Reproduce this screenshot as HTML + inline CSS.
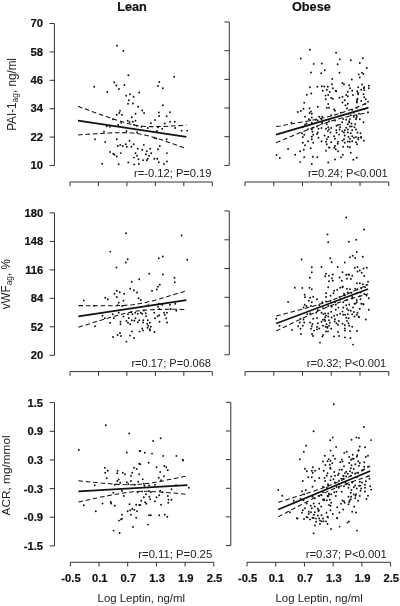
<!DOCTYPE html><html><head><meta charset="utf-8"><title>Leptin scatter</title><style>html,body{margin:0;padding:0;background:#fff}svg{display:block}</style></head><body><svg width="400" height="606" viewBox="0 0 400 606" font-family='&quot;Liberation Sans&quot;, Arial, sans-serif'>
<rect width="400" height="606" fill="#fff"/>
<g fill="#111" stroke="#111" stroke-width="0.2" font-weight="bold" font-size="12.7" text-anchor="middle"><text x="132" y="10.9">Lean</text><text x="311.4" y="10.9">Obese</text></g>
<g stroke="#333" stroke-width="1" fill="none">
<path d="M49.5 23.5H54.4V165.5H49.5M49.5 51.9H54.4M49.5 80.3H54.4M49.5 108.7H54.4M49.5 137.1H54.4"/>
<path d="M70.00 186.2V182.0H212.30V186.2M98.46 182.0V186.2M126.92 182.0V186.2M155.38 182.0V186.2M183.84 182.0V186.2"/>
<path d="M224.4 22.0H229.3V165.4H224.4M224.4 50.7H229.3M224.4 79.4H229.3M224.4 108.0H229.3M224.4 136.7H229.3"/>
<path d="M245.00 186.2V182.0H388.75V186.2M273.75 182.0V186.2M302.50 182.0V186.2M331.25 182.0V186.2M360.00 182.0V186.2"/>
<path d="M49.6 212.9H54.5V355.3H49.6M49.6 241.4H54.5M49.6 269.9H54.5M49.6 298.3H54.5M49.6 326.8H54.5"/>
<path d="M70.00 375.8V371.6H212.30V375.8M98.46 371.6V375.8M126.92 371.6V375.8M155.38 371.6V375.8M183.84 371.6V375.8"/>
<path d="M224.4 211.0H229.3V354.8H224.4M224.4 239.8H229.3M224.4 268.5H229.3M224.4 297.3H229.3M224.4 326.0H229.3"/>
<path d="M245.00 375.8V371.6H388.75V375.8M273.75 371.6V375.8M302.50 371.6V375.8M331.25 371.6V375.8M360.00 371.6V375.8"/>
<path d="M49.6 402.6H54.5V545.9H49.6M49.6 431.3H54.5M49.6 459.9H54.5M49.6 488.6H54.5M49.6 517.2H54.5"/>
<path d="M70.30 566.5V562.3H213.80V566.5M99.00 562.3V566.5M127.70 562.3V566.5M156.40 562.3V566.5M185.10 562.3V566.5"/>
<path d="M225.9 402.3H230.8V545.6H225.9M225.9 431.0H230.8M225.9 459.6H230.8M225.9 488.3H230.8M225.9 516.9H230.8"/>
<path d="M247.00 566.5V562.3H390.60V566.5M275.72 562.3V566.5M304.44 562.3V566.5M333.16 562.3V566.5M361.88 562.3V566.5"/>
</g>
<g fill="#111" stroke="#111" stroke-width="0.2" font-weight="bold" text-anchor="end">
<text font-size="11.3" x="43.0" y="27.2">70</text>
<text font-size="11.3" x="43.0" y="55.6">58</text>
<text font-size="11.3" x="43.0" y="84.0">46</text>
<text font-size="11.3" x="43.0" y="112.4">34</text>
<text font-size="11.3" x="43.0" y="140.8">22</text>
<text font-size="11.3" x="43.0" y="169.2">10</text>
<text font-size="11.2" x="43.2" y="216.6">180</text>
<text font-size="11.2" x="43.2" y="245.1">148</text>
<text font-size="11.2" x="43.2" y="273.6">116</text>
<text font-size="11.2" x="43.2" y="302.0">84</text>
<text font-size="11.2" x="43.2" y="330.5">52</text>
<text font-size="11.2" x="43.2" y="359.0">20</text>
<text font-size="11.2" x="43.1" y="406.7">1.5</text>
<text font-size="11.2" x="43.1" y="435.4">0.9</text>
<text font-size="11.2" x="43.1" y="464.0">0.3</text>
<text font-size="11.2" x="43.1" y="492.7">-0.3</text>
<text font-size="11.2" x="43.1" y="521.3">-0.9</text>
<text font-size="11.2" x="43.1" y="550.0">-1.5</text>
</g>
<g fill="#111" stroke="#111" stroke-width="0.2" font-weight="bold" font-size="11.2" text-anchor="middle">
<text x="71.00" y="581.5">-0.5</text>
<text x="99.70" y="581.5">0.1</text>
<text x="128.40" y="581.5">0.7</text>
<text x="157.10" y="581.5">1.3</text>
<text x="185.80" y="581.5">1.9</text>
<text x="214.50" y="581.5">2.5</text>
<text x="247.70" y="581.5">-0.5</text>
<text x="276.42" y="581.5">0.1</text>
<text x="305.14" y="581.5">0.7</text>
<text x="333.86" y="581.5">1.3</text>
<text x="362.58" y="581.5">1.9</text>
<text x="391.30" y="581.5">2.5</text>
</g>
<g fill="#222" font-size="11.4" text-anchor="middle"><text x="141.3" y="602">Log Leptin, ng/ml</text><text x="319.2" y="602">Log Leptin, ng/ml</text></g>
<g fill="#222" text-anchor="end">
<text font-size="11.15" x="211.5" y="177.0">r=-0.12; P=0.19</text>
<text font-size="11.15" x="387.8" y="177.0">r=0.24; P&lt;0.001</text>
<text font-size="11.10" x="211.0" y="367.0">r=0.17; P=0.068</text>
<text font-size="11.10" x="386.3" y="367.0">r=0.32; P&lt;0.001</text>
<text font-size="11.30" x="212.2" y="557.9">r=0.11; P=0.25</text>
<text font-size="11.30" x="386.8" y="557.9">r=0.37; P&lt;0.001</text>
</g>
<g fill="#222">
<text font-size="12.5" transform="translate(15.8 130.8) rotate(-90) scale(0.935 1)">PAI-1<tspan font-size="9" dy="2.6">ag</tspan><tspan dy="-2.6">, ng/ml</tspan></text>
<text font-size="11.9" transform="translate(9.9 309.2) rotate(-90) scale(0.975 1)">vWF<tspan font-size="8.6" dy="2.5">ag</tspan><tspan dy="-2.5">, %</tspan></text>
<text font-size="11.8" transform="translate(10.3 515.4) rotate(-90)">ACR, mg/mmol</text>
</g>
<g stroke="#111" fill="none">
<path stroke-width="1.65" d="M78.0 120.6L186.4 136.9"/>
<path stroke-width="1.05" stroke-dasharray="4.6 2.8" d="M78.0 106.3L82.5 108.0L87.0 109.6L91.5 111.3L96.1 112.9L100.6 114.5L105.1 116.1L109.6 117.7L114.1 119.3L118.7 120.7L123.2 122.1L127.7 123.4L132.2 124.5L136.7 125.4L141.2 126.0L145.8 126.4L150.3 126.6L154.8 126.6L159.3 126.5L163.8 126.4L168.3 126.2L172.9 125.9L177.4 125.7L181.9 125.4L186.4 125.1"/>
<path stroke-width="1.05" stroke-dasharray="4.6 2.8" d="M78.0 134.9L82.5 134.6L87.0 134.3L91.5 134.0L96.1 133.7L100.6 133.5L105.1 133.2L109.6 133.0L114.1 132.8L118.7 132.7L123.2 132.6L127.7 132.7L132.2 133.0L136.7 133.4L141.2 134.2L145.8 135.2L150.3 136.4L154.8 137.7L159.3 139.1L163.8 140.6L168.3 142.2L172.9 143.8L177.4 145.4L181.9 147.0L186.4 148.7"/>
<path stroke-width="1.65" d="M276.1 134.6L368.5 107.6"/>
<path stroke-width="1.05" stroke-dasharray="4.6 2.8" d="M276.1 126.5L280.0 125.9L283.8 125.2L287.7 124.6L291.5 123.9L295.4 123.2L299.2 122.6L303.1 121.9L306.9 121.2L310.8 120.5L314.6 119.7L318.4 118.9L322.3 118.1L326.2 117.2L330.0 116.3L333.9 115.2L337.7 114.1L341.6 112.8L345.4 111.5L349.2 110.1L353.1 108.7L356.9 107.2L360.8 105.7L364.6 104.1L368.5 102.6"/>
<path stroke-width="1.05" stroke-dasharray="4.6 2.8" d="M276.1 142.7L280.0 141.1L283.8 139.5L287.7 137.9L291.5 136.3L295.4 134.7L299.2 133.1L303.1 131.6L306.9 130.0L310.8 128.5L314.6 127.0L318.4 125.5L322.3 124.1L326.2 122.7L330.0 121.4L333.9 120.2L337.7 119.1L341.6 118.1L345.4 117.2L349.2 116.3L353.1 115.5L356.9 114.8L360.8 114.0L364.6 113.3L368.5 112.6"/>
<path stroke-width="1.65" d="M78.4 316.4L186.4 300.1"/>
<path stroke-width="1.05" stroke-dasharray="4.6 2.8" d="M78.4 305.6L82.9 305.6L87.4 305.7L91.9 305.7L96.4 305.8L100.9 305.8L105.4 305.8L109.9 305.8L114.4 305.7L118.9 305.6L123.4 305.4L127.9 305.1L132.4 304.7L136.9 304.1L141.4 303.3L145.9 302.4L150.4 301.3L154.9 300.2L159.4 298.9L163.9 297.6L168.4 296.3L172.9 294.9L177.4 293.6L181.9 292.2L186.4 290.8"/>
<path stroke-width="1.05" stroke-dasharray="4.6 2.8" d="M78.4 327.2L82.9 325.8L87.4 324.4L91.9 323.0L96.4 321.6L100.9 320.2L105.4 318.9L109.9 317.5L114.4 316.2L118.9 315.0L123.4 313.8L127.9 312.8L132.4 311.8L136.9 311.1L141.4 310.5L145.9 310.0L150.4 309.7L154.9 309.6L159.4 309.4L163.9 309.4L168.4 309.3L172.9 309.3L177.4 309.3L181.9 309.4L186.4 309.4"/>
<path stroke-width="1.65" d="M276.2 323.5L368.2 289.1"/>
<path stroke-width="1.05" stroke-dasharray="4.6 2.8" d="M276.2 316.0L280.1 315.0L283.9 314.0L287.8 313.0L291.6 312.0L295.4 311.0L299.2 309.9L303.1 308.9L306.9 307.8L310.8 306.8L314.6 305.7L318.4 304.5L322.2 303.4L326.1 302.1L329.9 300.9L333.8 299.5L337.6 298.0L341.4 296.5L345.2 294.9L349.1 293.2L352.9 291.5L356.8 289.8L360.6 288.0L364.4 286.2L368.2 284.4"/>
<path stroke-width="1.05" stroke-dasharray="4.6 2.8" d="M276.2 331.0L280.1 329.1L283.9 327.3L287.8 325.4L291.6 323.5L295.4 321.7L299.2 319.9L303.1 318.0L306.9 316.2L310.8 314.4L314.6 312.7L318.4 310.9L322.2 309.2L326.1 307.6L329.9 306.0L333.8 304.5L337.6 303.1L341.4 301.7L345.2 300.5L349.1 299.3L352.9 298.1L356.8 297.0L360.6 295.9L364.4 294.9L368.2 293.8"/>
<path stroke-width="1.65" d="M78.4 491.4L187.4 485.1"/>
<path stroke-width="1.05" stroke-dasharray="4.6 2.8" d="M78.4 480.8L82.9 481.3L87.5 481.8L92.0 482.2L96.6 482.6L101.1 483.1L105.7 483.4L110.2 483.8L114.7 484.1L119.3 484.4L123.8 484.6L128.4 484.7L132.9 484.7L137.4 484.5L142.0 484.1L146.5 483.6L151.1 483.0L155.6 482.2L160.2 481.4L164.7 480.5L169.2 479.6L173.8 478.7L178.3 477.8L182.9 476.8L187.4 475.8"/>
<path stroke-width="1.05" stroke-dasharray="4.6 2.8" d="M78.4 502.0L82.9 501.0L87.5 500.0L92.0 499.0L96.6 498.1L101.1 497.1L105.7 496.2L110.2 495.3L114.7 494.5L119.3 493.7L123.8 492.9L128.4 492.3L132.9 491.8L137.4 491.5L142.0 491.3L146.5 491.3L151.1 491.4L155.6 491.7L160.2 491.9L164.7 492.3L169.2 492.7L173.8 493.1L178.3 493.5L182.9 493.9L187.4 494.4"/>
<path stroke-width="1.65" d="M278.2 509.6L370.2 470.9"/>
<path stroke-width="1.05" stroke-dasharray="4.6 2.8" d="M278.2 502.3L282.0 501.2L285.9 500.0L289.7 498.8L293.5 497.6L297.4 496.4L301.2 495.2L305.0 493.9L308.9 492.7L312.7 491.4L316.5 490.1L320.4 488.8L324.2 487.4L328.0 486.0L331.9 484.5L335.7 482.9L339.5 481.2L343.4 479.5L347.2 477.7L351.0 475.8L354.9 473.9L358.7 472.0L362.5 470.0L366.4 468.0L370.2 466.0"/>
<path stroke-width="1.05" stroke-dasharray="4.6 2.8" d="M278.2 516.9L282.0 514.8L285.9 512.8L289.7 510.7L293.5 508.7L297.4 506.7L301.2 504.7L305.0 502.7L308.9 500.7L312.7 498.7L316.5 496.8L320.4 494.9L324.2 493.1L328.0 491.3L331.9 489.6L335.7 487.9L339.5 486.4L343.4 484.9L347.2 483.5L351.0 482.1L354.9 480.8L358.7 479.5L362.5 478.3L366.4 477.0L370.2 475.8"/>
</g>
<g fill="#111">
<circle cx="117.0" cy="45.8" r="0.95"/>
<circle cx="123.3" cy="50.9" r="0.95"/>
<circle cx="128.4" cy="75.2" r="0.95"/>
<circle cx="114.3" cy="82.2" r="0.95"/>
<circle cx="116.4" cy="85.5" r="0.95"/>
<circle cx="124.4" cy="85.0" r="0.95"/>
<circle cx="94.2" cy="86.8" r="0.95"/>
<circle cx="119.0" cy="89.0" r="0.95"/>
<circle cx="107.3" cy="92.0" r="0.95"/>
<circle cx="139.2" cy="92.5" r="0.95"/>
<circle cx="129.9" cy="94.2" r="0.95"/>
<circle cx="126.2" cy="95.8" r="0.95"/>
<circle cx="133.6" cy="96.8" r="0.95"/>
<circle cx="128.8" cy="100.2" r="0.95"/>
<circle cx="128.0" cy="103.7" r="0.95"/>
<circle cx="132.9" cy="103.5" r="0.95"/>
<circle cx="138.2" cy="106.7" r="0.95"/>
<circle cx="120.0" cy="110.8" r="0.95"/>
<circle cx="119.3" cy="113.0" r="0.95"/>
<circle cx="116.8" cy="114.8" r="0.95"/>
<circle cx="122.0" cy="114.8" r="0.95"/>
<circle cx="135.5" cy="113.8" r="0.95"/>
<circle cx="131.8" cy="117.2" r="0.95"/>
<circle cx="113.0" cy="119.3" r="0.95"/>
<circle cx="127.7" cy="120.8" r="0.95"/>
<circle cx="129.5" cy="122.0" r="0.95"/>
<circle cx="121.2" cy="122.8" r="0.95"/>
<circle cx="132.8" cy="121.7" r="0.95"/>
<circle cx="135.5" cy="120.8" r="0.95"/>
<circle cx="118.2" cy="125.0" r="0.95"/>
<circle cx="106.7" cy="126.2" r="0.95"/>
<circle cx="110.0" cy="126.8" r="0.95"/>
<circle cx="134.0" cy="124.7" r="0.95"/>
<circle cx="136.7" cy="125.8" r="0.95"/>
<circle cx="104.0" cy="131.8" r="0.95"/>
<circle cx="126.5" cy="131.0" r="0.95"/>
<circle cx="137.0" cy="132.2" r="0.95"/>
<circle cx="95.0" cy="139.2" r="0.95"/>
<circle cx="116.8" cy="139.2" r="0.95"/>
<circle cx="105.2" cy="141.9" r="0.95"/>
<circle cx="129.5" cy="140.8" r="0.95"/>
<circle cx="133.7" cy="144.2" r="0.95"/>
<circle cx="117.8" cy="146.0" r="0.95"/>
<circle cx="120.2" cy="144.9" r="0.95"/>
<circle cx="122.8" cy="146.0" r="0.95"/>
<circle cx="125.8" cy="144.2" r="0.95"/>
<circle cx="126.8" cy="146.8" r="0.95"/>
<circle cx="131.4" cy="146.8" r="0.95"/>
<circle cx="137.8" cy="148.7" r="0.95"/>
<circle cx="110.0" cy="152.0" r="0.95"/>
<circle cx="113.3" cy="153.8" r="0.95"/>
<circle cx="114.5" cy="154.7" r="0.95"/>
<circle cx="120.8" cy="153.1" r="0.95"/>
<circle cx="116.8" cy="156.5" r="0.95"/>
<circle cx="135.5" cy="153.2" r="0.95"/>
<circle cx="137.0" cy="155.8" r="0.95"/>
<circle cx="134.0" cy="157.6" r="0.95"/>
<circle cx="138.5" cy="159.2" r="0.95"/>
<circle cx="102.2" cy="163.7" r="0.95"/>
<circle cx="118.7" cy="164.3" r="0.95"/>
<circle cx="128.3" cy="162.5" r="0.95"/>
<circle cx="134.3" cy="164.4" r="0.95"/>
<circle cx="138.8" cy="164.0" r="0.95"/>
<circle cx="174.2" cy="76.7" r="0.95"/>
<circle cx="159.2" cy="82.0" r="0.95"/>
<circle cx="158.0" cy="86.0" r="0.95"/>
<circle cx="162.8" cy="88.2" r="0.95"/>
<circle cx="162.9" cy="105.2" r="0.95"/>
<circle cx="142.2" cy="110.5" r="0.95"/>
<circle cx="144.1" cy="113.0" r="0.95"/>
<circle cx="158.8" cy="112.5" r="0.95"/>
<circle cx="170.0" cy="112.2" r="0.95"/>
<circle cx="159.1" cy="116.0" r="0.95"/>
<circle cx="166.7" cy="116.3" r="0.95"/>
<circle cx="155.0" cy="120.0" r="0.95"/>
<circle cx="170.0" cy="121.7" r="0.95"/>
<circle cx="174.8" cy="121.7" r="0.95"/>
<circle cx="150.9" cy="123.2" r="0.95"/>
<circle cx="164.8" cy="123.5" r="0.95"/>
<circle cx="141.5" cy="126.8" r="0.95"/>
<circle cx="147.8" cy="128.0" r="0.95"/>
<circle cx="158.0" cy="127.2" r="0.95"/>
<circle cx="162.2" cy="128.8" r="0.95"/>
<circle cx="175.2" cy="128.0" r="0.95"/>
<circle cx="156.9" cy="131.0" r="0.95"/>
<circle cx="181.7" cy="130.7" r="0.95"/>
<circle cx="187.2" cy="130.6" r="0.95"/>
<circle cx="154.2" cy="137.8" r="0.95"/>
<circle cx="156.2" cy="138.5" r="0.95"/>
<circle cx="166.7" cy="139.2" r="0.95"/>
<circle cx="143.8" cy="144.9" r="0.95"/>
<circle cx="159.8" cy="146.0" r="0.95"/>
<circle cx="150.2" cy="148.7" r="0.95"/>
<circle cx="158.0" cy="149.3" r="0.95"/>
<circle cx="142.2" cy="149.8" r="0.95"/>
<circle cx="146.8" cy="151.2" r="0.95"/>
<circle cx="167.0" cy="153.1" r="0.95"/>
<circle cx="146.0" cy="154.2" r="0.95"/>
<circle cx="151.2" cy="153.2" r="0.95"/>
<circle cx="149.0" cy="155.8" r="0.95"/>
<circle cx="147.8" cy="158.8" r="0.95"/>
<circle cx="154.2" cy="158.8" r="0.95"/>
<circle cx="157.2" cy="158.8" r="0.95"/>
<circle cx="143.0" cy="160.2" r="0.95"/>
<circle cx="146.8" cy="160.2" r="0.95"/>
<circle cx="158.8" cy="162.2" r="0.95"/>
<circle cx="167.0" cy="161.4" r="0.95"/>
<circle cx="164.0" cy="164.0" r="0.95"/>
<circle cx="309.9" cy="49.7" r="0.95"/>
<circle cx="300.8" cy="58.5" r="0.95"/>
<circle cx="313.7" cy="63.9" r="0.95"/>
<circle cx="311.0" cy="72.5" r="0.95"/>
<circle cx="336.1" cy="52.7" r="0.95"/>
<circle cx="339.8" cy="59.4" r="0.95"/>
<circle cx="350.8" cy="60.2" r="0.95"/>
<circle cx="362.8" cy="58.2" r="0.95"/>
<circle cx="321.8" cy="63.5" r="0.95"/>
<circle cx="337.6" cy="64.2" r="0.95"/>
<circle cx="359.8" cy="63.0" r="0.95"/>
<circle cx="366.8" cy="68.0" r="0.95"/>
<circle cx="324.8" cy="70.2" r="0.95"/>
<circle cx="321.2" cy="73.2" r="0.95"/>
<circle cx="339.5" cy="72.8" r="0.95"/>
<circle cx="362.0" cy="72.8" r="0.95"/>
<circle cx="363.5" cy="74.0" r="0.95"/>
<circle cx="358.7" cy="74.4" r="0.95"/>
<circle cx="359.8" cy="77.4" r="0.95"/>
<circle cx="332.3" cy="78.9" r="0.95"/>
<circle cx="351.8" cy="79.5" r="0.95"/>
<circle cx="309.9" cy="87.2" r="0.95"/>
<circle cx="317.4" cy="86.8" r="0.95"/>
<circle cx="311.3" cy="93.5" r="0.95"/>
<circle cx="306.8" cy="94.7" r="0.95"/>
<circle cx="304.2" cy="102.8" r="0.95"/>
<circle cx="317.8" cy="106.7" r="0.95"/>
<circle cx="303.5" cy="108.8" r="0.95"/>
<circle cx="309.5" cy="108.2" r="0.95"/>
<circle cx="300.8" cy="111.0" r="0.95"/>
<circle cx="297.8" cy="112.0" r="0.95"/>
<circle cx="311.0" cy="111.5" r="0.95"/>
<circle cx="309.5" cy="113.0" r="0.95"/>
<circle cx="311.8" cy="113.8" r="0.95"/>
<circle cx="305.0" cy="116.8" r="0.95"/>
<circle cx="311.8" cy="117.5" r="0.95"/>
<circle cx="319.2" cy="116.8" r="0.95"/>
<circle cx="308.8" cy="119.3" r="0.95"/>
<circle cx="310.2" cy="120.2" r="0.95"/>
<circle cx="315.8" cy="119.8" r="0.95"/>
<circle cx="317.8" cy="120.5" r="0.95"/>
<circle cx="291.5" cy="122.8" r="0.95"/>
<circle cx="306.5" cy="123.5" r="0.95"/>
<circle cx="311.8" cy="122.8" r="0.95"/>
<circle cx="305.0" cy="124.7" r="0.95"/>
<circle cx="309.2" cy="124.7" r="0.95"/>
<circle cx="302.8" cy="127.2" r="0.95"/>
<circle cx="312.8" cy="127.7" r="0.95"/>
<circle cx="317.0" cy="126.5" r="0.95"/>
<circle cx="308.0" cy="129.2" r="0.95"/>
<circle cx="311.8" cy="129.5" r="0.95"/>
<circle cx="318.5" cy="128.8" r="0.95"/>
<circle cx="312.5" cy="131.8" r="0.95"/>
<circle cx="317.8" cy="132.5" r="0.95"/>
<circle cx="302.0" cy="133.2" r="0.95"/>
<circle cx="304.2" cy="134.8" r="0.95"/>
<circle cx="313.2" cy="134.8" r="0.95"/>
<circle cx="317.0" cy="134.0" r="0.95"/>
<circle cx="302.8" cy="137.0" r="0.95"/>
<circle cx="311.8" cy="136.7" r="0.95"/>
<circle cx="318.5" cy="137.8" r="0.95"/>
<circle cx="311.8" cy="139.2" r="0.95"/>
<circle cx="332.0" cy="84.2" r="0.95"/>
<circle cx="342.5" cy="83.0" r="0.95"/>
<circle cx="344.0" cy="84.2" r="0.95"/>
<circle cx="349.2" cy="85.2" r="0.95"/>
<circle cx="362.0" cy="84.5" r="0.95"/>
<circle cx="368.8" cy="85.7" r="0.95"/>
<circle cx="321.8" cy="86.3" r="0.95"/>
<circle cx="327.8" cy="86.8" r="0.95"/>
<circle cx="332.8" cy="88.2" r="0.95"/>
<circle cx="350.0" cy="88.2" r="0.95"/>
<circle cx="358.2" cy="87.2" r="0.95"/>
<circle cx="364.2" cy="87.2" r="0.95"/>
<circle cx="368.8" cy="88.2" r="0.95"/>
<circle cx="326.8" cy="89.8" r="0.95"/>
<circle cx="322.7" cy="90.8" r="0.95"/>
<circle cx="329.8" cy="92.0" r="0.95"/>
<circle cx="335.8" cy="90.8" r="0.95"/>
<circle cx="347.8" cy="91.7" r="0.95"/>
<circle cx="352.2" cy="90.8" r="0.95"/>
<circle cx="361.2" cy="89.8" r="0.95"/>
<circle cx="357.2" cy="91.2" r="0.95"/>
<circle cx="328.2" cy="95.0" r="0.95"/>
<circle cx="346.2" cy="95.0" r="0.95"/>
<circle cx="347.8" cy="96.2" r="0.95"/>
<circle cx="353.0" cy="95.0" r="0.95"/>
<circle cx="358.2" cy="94.2" r="0.95"/>
<circle cx="363.5" cy="94.2" r="0.95"/>
<circle cx="342.5" cy="96.8" r="0.95"/>
<circle cx="339.5" cy="97.7" r="0.95"/>
<circle cx="331.2" cy="98.0" r="0.95"/>
<circle cx="325.7" cy="99.2" r="0.95"/>
<circle cx="332.8" cy="98.8" r="0.95"/>
<circle cx="357.5" cy="98.8" r="0.95"/>
<circle cx="364.2" cy="97.2" r="0.95"/>
<circle cx="365.8" cy="99.2" r="0.95"/>
<circle cx="344.8" cy="100.2" r="0.95"/>
<circle cx="356.8" cy="101.8" r="0.95"/>
<circle cx="361.2" cy="101.0" r="0.95"/>
<circle cx="328.2" cy="104.0" r="0.95"/>
<circle cx="342.5" cy="102.5" r="0.95"/>
<circle cx="347.8" cy="103.7" r="0.95"/>
<circle cx="356.8" cy="102.5" r="0.95"/>
<circle cx="365.0" cy="104.0" r="0.95"/>
<circle cx="368.0" cy="101.8" r="0.95"/>
<circle cx="345.5" cy="105.2" r="0.95"/>
<circle cx="326.8" cy="107.8" r="0.95"/>
<circle cx="329.0" cy="107.8" r="0.95"/>
<circle cx="347.0" cy="108.5" r="0.95"/>
<circle cx="334.2" cy="109.2" r="0.95"/>
<circle cx="335.0" cy="110.8" r="0.95"/>
<circle cx="352.2" cy="110.0" r="0.95"/>
<circle cx="356.8" cy="107.8" r="0.95"/>
<circle cx="364.2" cy="109.2" r="0.95"/>
<circle cx="340.7" cy="112.7" r="0.95"/>
<circle cx="348.5" cy="113.8" r="0.95"/>
<circle cx="350.8" cy="115.2" r="0.95"/>
<circle cx="359.0" cy="113.8" r="0.95"/>
<circle cx="368.0" cy="112.2" r="0.95"/>
<circle cx="322.2" cy="116.8" r="0.95"/>
<circle cx="331.2" cy="115.2" r="0.95"/>
<circle cx="353.8" cy="116.8" r="0.95"/>
<circle cx="356.8" cy="116.0" r="0.95"/>
<circle cx="321.5" cy="119.3" r="0.95"/>
<circle cx="343.2" cy="119.0" r="0.95"/>
<circle cx="346.2" cy="119.8" r="0.95"/>
<circle cx="349.2" cy="121.2" r="0.95"/>
<circle cx="356.0" cy="119.3" r="0.95"/>
<circle cx="359.8" cy="119.3" r="0.95"/>
<circle cx="335.0" cy="120.5" r="0.95"/>
<circle cx="329.0" cy="121.2" r="0.95"/>
<circle cx="342.2" cy="122.3" r="0.95"/>
<circle cx="363.5" cy="122.3" r="0.95"/>
<circle cx="322.2" cy="123.5" r="0.95"/>
<circle cx="326.8" cy="124.2" r="0.95"/>
<circle cx="338.0" cy="125.0" r="0.95"/>
<circle cx="347.8" cy="124.2" r="0.95"/>
<circle cx="351.5" cy="123.5" r="0.95"/>
<circle cx="355.2" cy="124.2" r="0.95"/>
<circle cx="328.2" cy="127.2" r="0.95"/>
<circle cx="331.2" cy="128.0" r="0.95"/>
<circle cx="340.2" cy="127.2" r="0.95"/>
<circle cx="346.2" cy="127.7" r="0.95"/>
<circle cx="350.0" cy="126.5" r="0.95"/>
<circle cx="354.5" cy="127.2" r="0.95"/>
<circle cx="321.5" cy="128.0" r="0.95"/>
<circle cx="326.0" cy="128.8" r="0.95"/>
<circle cx="329.0" cy="129.5" r="0.95"/>
<circle cx="339.5" cy="129.5" r="0.95"/>
<circle cx="344.8" cy="130.2" r="0.95"/>
<circle cx="347.8" cy="129.5" r="0.95"/>
<circle cx="352.2" cy="130.2" r="0.95"/>
<circle cx="356.0" cy="129.5" r="0.95"/>
<circle cx="330.5" cy="132.5" r="0.95"/>
<circle cx="336.5" cy="132.8" r="0.95"/>
<circle cx="344.0" cy="132.5" r="0.95"/>
<circle cx="347.8" cy="132.5" r="0.95"/>
<circle cx="350.8" cy="133.2" r="0.95"/>
<circle cx="357.5" cy="132.5" r="0.95"/>
<circle cx="360.5" cy="133.2" r="0.95"/>
<circle cx="324.5" cy="135.5" r="0.95"/>
<circle cx="328.2" cy="137.0" r="0.95"/>
<circle cx="334.2" cy="136.2" r="0.95"/>
<circle cx="344.8" cy="135.5" r="0.95"/>
<circle cx="348.5" cy="136.7" r="0.95"/>
<circle cx="352.2" cy="136.2" r="0.95"/>
<circle cx="356.0" cy="137.0" r="0.95"/>
<circle cx="326.8" cy="139.2" r="0.95"/>
<circle cx="335.0" cy="138.8" r="0.95"/>
<circle cx="344.0" cy="139.2" r="0.95"/>
<circle cx="350.0" cy="138.8" r="0.95"/>
<circle cx="358.2" cy="139.2" r="0.95"/>
<circle cx="361.2" cy="137.8" r="0.95"/>
<circle cx="302.8" cy="142.7" r="0.95"/>
<circle cx="308.0" cy="141.2" r="0.95"/>
<circle cx="313.2" cy="142.7" r="0.95"/>
<circle cx="305.0" cy="145.2" r="0.95"/>
<circle cx="288.1" cy="149.0" r="0.95"/>
<circle cx="310.7" cy="148.2" r="0.95"/>
<circle cx="303.8" cy="149.8" r="0.95"/>
<circle cx="300.2" cy="151.2" r="0.95"/>
<circle cx="276.5" cy="155.0" r="0.95"/>
<circle cx="295.2" cy="154.7" r="0.95"/>
<circle cx="279.8" cy="158.0" r="0.95"/>
<circle cx="304.2" cy="157.2" r="0.95"/>
<circle cx="312.8" cy="156.8" r="0.95"/>
<circle cx="317.3" cy="157.2" r="0.95"/>
<circle cx="300.2" cy="162.1" r="0.95"/>
<circle cx="311.8" cy="164.0" r="0.95"/>
<circle cx="321.5" cy="141.2" r="0.95"/>
<circle cx="326.0" cy="141.8" r="0.95"/>
<circle cx="331.2" cy="142.2" r="0.95"/>
<circle cx="338.0" cy="141.8" r="0.95"/>
<circle cx="342.5" cy="140.8" r="0.95"/>
<circle cx="344.8" cy="142.7" r="0.95"/>
<circle cx="347.8" cy="141.5" r="0.95"/>
<circle cx="352.2" cy="141.2" r="0.95"/>
<circle cx="356.0" cy="142.2" r="0.95"/>
<circle cx="363.8" cy="140.8" r="0.95"/>
<circle cx="326.8" cy="144.2" r="0.95"/>
<circle cx="337.7" cy="143.8" r="0.95"/>
<circle cx="335.0" cy="146.0" r="0.95"/>
<circle cx="343.2" cy="146.8" r="0.95"/>
<circle cx="347.8" cy="146.8" r="0.95"/>
<circle cx="350.0" cy="147.2" r="0.95"/>
<circle cx="329.0" cy="147.5" r="0.95"/>
<circle cx="335.8" cy="149.3" r="0.95"/>
<circle cx="326.0" cy="150.8" r="0.95"/>
<circle cx="338.0" cy="151.2" r="0.95"/>
<circle cx="350.8" cy="152.8" r="0.95"/>
<circle cx="342.8" cy="154.7" r="0.95"/>
<circle cx="341.0" cy="157.2" r="0.95"/>
<circle cx="356.8" cy="157.7" r="0.95"/>
<circle cx="335.0" cy="159.5" r="0.95"/>
<circle cx="353.3" cy="159.8" r="0.95"/>
<circle cx="328.2" cy="162.5" r="0.95"/>
<circle cx="126.0" cy="233.2" r="0.95"/>
<circle cx="110.3" cy="251.6" r="0.95"/>
<circle cx="127.7" cy="259.2" r="0.95"/>
<circle cx="125.8" cy="262.5" r="0.95"/>
<circle cx="116.4" cy="267.4" r="0.95"/>
<circle cx="181.6" cy="235.5" r="0.95"/>
<circle cx="162.8" cy="256.5" r="0.95"/>
<circle cx="158.8" cy="258.3" r="0.95"/>
<circle cx="187.2" cy="259.8" r="0.95"/>
<circle cx="139.2" cy="279.3" r="0.95"/>
<circle cx="131.8" cy="281.7" r="0.95"/>
<circle cx="130.2" cy="288.8" r="0.95"/>
<circle cx="134.0" cy="290.2" r="0.95"/>
<circle cx="116.8" cy="291.0" r="0.95"/>
<circle cx="119.8" cy="292.2" r="0.95"/>
<circle cx="137.0" cy="292.5" r="0.95"/>
<circle cx="114.5" cy="293.7" r="0.95"/>
<circle cx="124.2" cy="293.7" r="0.95"/>
<circle cx="116.8" cy="297.0" r="0.95"/>
<circle cx="105.2" cy="297.8" r="0.95"/>
<circle cx="107.8" cy="299.2" r="0.95"/>
<circle cx="138.5" cy="298.2" r="0.95"/>
<circle cx="83.8" cy="300.4" r="0.95"/>
<circle cx="123.5" cy="300.8" r="0.95"/>
<circle cx="118.7" cy="302.7" r="0.95"/>
<circle cx="94.2" cy="305.7" r="0.95"/>
<circle cx="117.5" cy="305.2" r="0.95"/>
<circle cx="122.3" cy="306.0" r="0.95"/>
<circle cx="118.7" cy="312.8" r="0.95"/>
<circle cx="131.0" cy="312.3" r="0.95"/>
<circle cx="135.2" cy="312.8" r="0.95"/>
<circle cx="112.7" cy="314.2" r="0.95"/>
<circle cx="128.0" cy="314.2" r="0.95"/>
<circle cx="132.5" cy="314.2" r="0.95"/>
<circle cx="137.8" cy="313.8" r="0.95"/>
<circle cx="102.5" cy="315.8" r="0.95"/>
<circle cx="123.5" cy="316.5" r="0.95"/>
<circle cx="104.8" cy="318.3" r="0.95"/>
<circle cx="113.8" cy="318.3" r="0.95"/>
<circle cx="128.8" cy="318.0" r="0.95"/>
<circle cx="135.5" cy="318.3" r="0.95"/>
<circle cx="131.8" cy="320.2" r="0.95"/>
<circle cx="139.2" cy="320.2" r="0.95"/>
<circle cx="120.5" cy="321.8" r="0.95"/>
<circle cx="126.5" cy="321.0" r="0.95"/>
<circle cx="134.3" cy="320.7" r="0.95"/>
<circle cx="110.0" cy="322.8" r="0.95"/>
<circle cx="128.0" cy="322.8" r="0.95"/>
<circle cx="137.8" cy="322.2" r="0.95"/>
<circle cx="120.5" cy="324.3" r="0.95"/>
<circle cx="130.2" cy="324.3" r="0.95"/>
<circle cx="95.0" cy="326.2" r="0.95"/>
<circle cx="149.3" cy="273.8" r="0.95"/>
<circle cx="162.9" cy="274.5" r="0.95"/>
<circle cx="174.5" cy="277.8" r="0.95"/>
<circle cx="174.8" cy="282.3" r="0.95"/>
<circle cx="159.8" cy="284.7" r="0.95"/>
<circle cx="158.0" cy="286.8" r="0.95"/>
<circle cx="152.0" cy="290.7" r="0.95"/>
<circle cx="156.8" cy="289.5" r="0.95"/>
<circle cx="140.8" cy="300.0" r="0.95"/>
<circle cx="158.8" cy="303.8" r="0.95"/>
<circle cx="162.2" cy="304.8" r="0.95"/>
<circle cx="170.0" cy="304.8" r="0.95"/>
<circle cx="175.2" cy="303.8" r="0.95"/>
<circle cx="148.2" cy="305.2" r="0.95"/>
<circle cx="158.0" cy="306.8" r="0.95"/>
<circle cx="159.5" cy="309.0" r="0.95"/>
<circle cx="170.8" cy="309.0" r="0.95"/>
<circle cx="176.3" cy="310.8" r="0.95"/>
<circle cx="143.8" cy="310.5" r="0.95"/>
<circle cx="140.8" cy="312.8" r="0.95"/>
<circle cx="142.2" cy="313.8" r="0.95"/>
<circle cx="145.7" cy="313.2" r="0.95"/>
<circle cx="154.2" cy="312.8" r="0.95"/>
<circle cx="164.0" cy="312.8" r="0.95"/>
<circle cx="167.0" cy="312.8" r="0.95"/>
<circle cx="164.8" cy="315.0" r="0.95"/>
<circle cx="146.0" cy="316.2" r="0.95"/>
<circle cx="157.7" cy="316.2" r="0.95"/>
<circle cx="159.2" cy="315.3" r="0.95"/>
<circle cx="155.0" cy="318.3" r="0.95"/>
<circle cx="166.2" cy="318.3" r="0.95"/>
<circle cx="143.3" cy="320.2" r="0.95"/>
<circle cx="147.8" cy="320.2" r="0.95"/>
<circle cx="159.5" cy="321.8" r="0.95"/>
<circle cx="167.0" cy="322.5" r="0.95"/>
<circle cx="143.0" cy="322.5" r="0.95"/>
<circle cx="147.2" cy="323.7" r="0.95"/>
<circle cx="149.8" cy="322.8" r="0.95"/>
<circle cx="148.2" cy="325.8" r="0.95"/>
<circle cx="150.8" cy="326.7" r="0.95"/>
<circle cx="142.2" cy="328.5" r="0.95"/>
<circle cx="147.5" cy="327.8" r="0.95"/>
<circle cx="149.8" cy="329.2" r="0.95"/>
<circle cx="132.0" cy="331.4" r="0.95"/>
<circle cx="139.6" cy="331.6" r="0.95"/>
<circle cx="143.0" cy="330.4" r="0.95"/>
<circle cx="150.0" cy="330.4" r="0.95"/>
<circle cx="154.4" cy="332.0" r="0.95"/>
<circle cx="120.0" cy="333.0" r="0.95"/>
<circle cx="117.6" cy="335.0" r="0.95"/>
<circle cx="121.0" cy="336.0" r="0.95"/>
<circle cx="113.0" cy="337.0" r="0.95"/>
<circle cx="130.0" cy="335.6" r="0.95"/>
<circle cx="134.0" cy="338.0" r="0.95"/>
<circle cx="126.4" cy="341.6" r="0.95"/>
<circle cx="301.6" cy="259.5" r="0.95"/>
<circle cx="311.8" cy="267.3" r="0.95"/>
<circle cx="346.2" cy="217.5" r="0.95"/>
<circle cx="364.2" cy="229.5" r="0.95"/>
<circle cx="327.5" cy="234.4" r="0.95"/>
<circle cx="356.3" cy="239.7" r="0.95"/>
<circle cx="328.2" cy="242.2" r="0.95"/>
<circle cx="348.9" cy="241.8" r="0.95"/>
<circle cx="356.8" cy="252.0" r="0.95"/>
<circle cx="352.7" cy="255.8" r="0.95"/>
<circle cx="350.0" cy="257.2" r="0.95"/>
<circle cx="355.2" cy="258.0" r="0.95"/>
<circle cx="362.8" cy="256.8" r="0.95"/>
<circle cx="330.2" cy="258.3" r="0.95"/>
<circle cx="331.7" cy="262.2" r="0.95"/>
<circle cx="344.8" cy="262.5" r="0.95"/>
<circle cx="321.5" cy="267.0" r="0.95"/>
<circle cx="337.7" cy="267.0" r="0.95"/>
<circle cx="354.8" cy="267.8" r="0.95"/>
<circle cx="357.5" cy="267.0" r="0.95"/>
<circle cx="363.5" cy="268.5" r="0.95"/>
<circle cx="366.8" cy="267.8" r="0.95"/>
<circle cx="311.8" cy="272.2" r="0.95"/>
<circle cx="309.9" cy="277.8" r="0.95"/>
<circle cx="294.8" cy="287.7" r="0.95"/>
<circle cx="302.3" cy="288.0" r="0.95"/>
<circle cx="309.5" cy="287.7" r="0.95"/>
<circle cx="311.8" cy="289.2" r="0.95"/>
<circle cx="304.7" cy="294.8" r="0.95"/>
<circle cx="305.0" cy="297.3" r="0.95"/>
<circle cx="310.2" cy="297.8" r="0.95"/>
<circle cx="313.2" cy="296.7" r="0.95"/>
<circle cx="317.0" cy="299.2" r="0.95"/>
<circle cx="308.8" cy="300.8" r="0.95"/>
<circle cx="311.8" cy="302.2" r="0.95"/>
<circle cx="288.1" cy="301.9" r="0.95"/>
<circle cx="304.7" cy="304.8" r="0.95"/>
<circle cx="306.5" cy="306.0" r="0.95"/>
<circle cx="303.5" cy="307.5" r="0.95"/>
<circle cx="311.0" cy="306.0" r="0.95"/>
<circle cx="319.2" cy="305.2" r="0.95"/>
<circle cx="317.8" cy="310.2" r="0.95"/>
<circle cx="307.2" cy="314.2" r="0.95"/>
<circle cx="310.2" cy="313.5" r="0.95"/>
<circle cx="316.2" cy="312.8" r="0.95"/>
<circle cx="276.2" cy="318.8" r="0.95"/>
<circle cx="300.5" cy="318.8" r="0.95"/>
<circle cx="303.5" cy="319.5" r="0.95"/>
<circle cx="313.2" cy="318.8" r="0.95"/>
<circle cx="317.0" cy="318.0" r="0.95"/>
<circle cx="299.8" cy="322.5" r="0.95"/>
<circle cx="304.2" cy="322.5" r="0.95"/>
<circle cx="310.2" cy="322.5" r="0.95"/>
<circle cx="312.5" cy="324.0" r="0.95"/>
<circle cx="317.8" cy="323.2" r="0.95"/>
<circle cx="279.5" cy="325.8" r="0.95"/>
<circle cx="298.2" cy="326.2" r="0.95"/>
<circle cx="302.8" cy="325.8" r="0.95"/>
<circle cx="311.8" cy="326.2" r="0.95"/>
<circle cx="317.0" cy="327.0" r="0.95"/>
<circle cx="300.5" cy="328.8" r="0.95"/>
<circle cx="311.0" cy="328.8" r="0.95"/>
<circle cx="319.2" cy="328.5" r="0.95"/>
<circle cx="326.0" cy="273.8" r="0.95"/>
<circle cx="342.5" cy="272.2" r="0.95"/>
<circle cx="357.5" cy="271.5" r="0.95"/>
<circle cx="361.7" cy="272.7" r="0.95"/>
<circle cx="346.2" cy="274.8" r="0.95"/>
<circle cx="349.2" cy="274.8" r="0.95"/>
<circle cx="332.8" cy="274.5" r="0.95"/>
<circle cx="325.2" cy="276.3" r="0.95"/>
<circle cx="329.0" cy="275.7" r="0.95"/>
<circle cx="339.5" cy="277.5" r="0.95"/>
<circle cx="352.2" cy="275.7" r="0.95"/>
<circle cx="364.2" cy="276.0" r="0.95"/>
<circle cx="332.0" cy="278.2" r="0.95"/>
<circle cx="347.0" cy="278.7" r="0.95"/>
<circle cx="350.8" cy="279.0" r="0.95"/>
<circle cx="329.0" cy="281.2" r="0.95"/>
<circle cx="332.8" cy="280.8" r="0.95"/>
<circle cx="341.8" cy="280.8" r="0.95"/>
<circle cx="368.0" cy="281.7" r="0.95"/>
<circle cx="356.8" cy="283.2" r="0.95"/>
<circle cx="359.8" cy="283.2" r="0.95"/>
<circle cx="362.8" cy="284.2" r="0.95"/>
<circle cx="366.5" cy="285.0" r="0.95"/>
<circle cx="328.2" cy="287.2" r="0.95"/>
<circle cx="342.5" cy="287.2" r="0.95"/>
<circle cx="340.2" cy="287.7" r="0.95"/>
<circle cx="347.0" cy="288.8" r="0.95"/>
<circle cx="350.0" cy="289.2" r="0.95"/>
<circle cx="355.2" cy="288.8" r="0.95"/>
<circle cx="357.5" cy="289.2" r="0.95"/>
<circle cx="361.2" cy="288.3" r="0.95"/>
<circle cx="365.0" cy="287.2" r="0.95"/>
<circle cx="334.2" cy="290.7" r="0.95"/>
<circle cx="337.2" cy="289.8" r="0.95"/>
<circle cx="326.0" cy="293.2" r="0.95"/>
<circle cx="333.5" cy="293.2" r="0.95"/>
<circle cx="344.0" cy="293.7" r="0.95"/>
<circle cx="347.8" cy="292.5" r="0.95"/>
<circle cx="351.5" cy="292.8" r="0.95"/>
<circle cx="356.8" cy="293.2" r="0.95"/>
<circle cx="360.5" cy="292.5" r="0.95"/>
<circle cx="364.2" cy="294.0" r="0.95"/>
<circle cx="326.0" cy="297.0" r="0.95"/>
<circle cx="330.5" cy="295.8" r="0.95"/>
<circle cx="339.5" cy="297.0" r="0.95"/>
<circle cx="344.8" cy="295.5" r="0.95"/>
<circle cx="352.2" cy="297.0" r="0.95"/>
<circle cx="359.8" cy="296.2" r="0.95"/>
<circle cx="366.5" cy="295.5" r="0.95"/>
<circle cx="322.2" cy="302.2" r="0.95"/>
<circle cx="326.0" cy="301.5" r="0.95"/>
<circle cx="330.5" cy="300.8" r="0.95"/>
<circle cx="340.2" cy="299.2" r="0.95"/>
<circle cx="347.0" cy="300.0" r="0.95"/>
<circle cx="352.2" cy="298.5" r="0.95"/>
<circle cx="356.8" cy="300.0" r="0.95"/>
<circle cx="360.5" cy="299.2" r="0.95"/>
<circle cx="368.8" cy="298.2" r="0.95"/>
<circle cx="335.0" cy="302.2" r="0.95"/>
<circle cx="343.2" cy="302.2" r="0.95"/>
<circle cx="356.8" cy="302.2" r="0.95"/>
<circle cx="323.0" cy="308.2" r="0.95"/>
<circle cx="328.2" cy="306.0" r="0.95"/>
<circle cx="335.8" cy="304.8" r="0.95"/>
<circle cx="346.2" cy="305.2" r="0.95"/>
<circle cx="349.2" cy="304.5" r="0.95"/>
<circle cx="354.5" cy="303.8" r="0.95"/>
<circle cx="361.2" cy="303.8" r="0.95"/>
<circle cx="363.5" cy="304.5" r="0.95"/>
<circle cx="343.2" cy="307.5" r="0.95"/>
<circle cx="347.0" cy="308.7" r="0.95"/>
<circle cx="353.0" cy="307.5" r="0.95"/>
<circle cx="359.8" cy="308.7" r="0.95"/>
<circle cx="321.5" cy="312.8" r="0.95"/>
<circle cx="325.2" cy="313.5" r="0.95"/>
<circle cx="331.2" cy="311.7" r="0.95"/>
<circle cx="335.8" cy="309.8" r="0.95"/>
<circle cx="348.5" cy="310.2" r="0.95"/>
<circle cx="350.8" cy="310.8" r="0.95"/>
<circle cx="353.8" cy="312.0" r="0.95"/>
<circle cx="357.5" cy="312.8" r="0.95"/>
<circle cx="368.8" cy="309.8" r="0.95"/>
<circle cx="340.2" cy="313.8" r="0.95"/>
<circle cx="343.2" cy="314.7" r="0.95"/>
<circle cx="347.8" cy="314.2" r="0.95"/>
<circle cx="352.2" cy="314.2" r="0.95"/>
<circle cx="356.8" cy="314.7" r="0.95"/>
<circle cx="325.2" cy="317.2" r="0.95"/>
<circle cx="328.2" cy="316.5" r="0.95"/>
<circle cx="334.2" cy="315.8" r="0.95"/>
<circle cx="337.2" cy="315.0" r="0.95"/>
<circle cx="346.2" cy="317.7" r="0.95"/>
<circle cx="348.5" cy="318.3" r="0.95"/>
<circle cx="354.5" cy="316.5" r="0.95"/>
<circle cx="359.0" cy="317.2" r="0.95"/>
<circle cx="365.8" cy="319.5" r="0.95"/>
<circle cx="324.5" cy="319.5" r="0.95"/>
<circle cx="329.0" cy="320.2" r="0.95"/>
<circle cx="335.0" cy="319.2" r="0.95"/>
<circle cx="338.8" cy="321.0" r="0.95"/>
<circle cx="347.0" cy="321.0" r="0.95"/>
<circle cx="321.5" cy="321.8" r="0.95"/>
<circle cx="329.8" cy="322.8" r="0.95"/>
<circle cx="336.5" cy="323.2" r="0.95"/>
<circle cx="342.5" cy="323.7" r="0.95"/>
<circle cx="348.5" cy="323.2" r="0.95"/>
<circle cx="323.0" cy="325.8" r="0.95"/>
<circle cx="329.0" cy="325.8" r="0.95"/>
<circle cx="338.0" cy="324.8" r="0.95"/>
<circle cx="344.8" cy="325.2" r="0.95"/>
<circle cx="349.2" cy="325.8" r="0.95"/>
<circle cx="352.2" cy="326.7" r="0.95"/>
<circle cx="327.5" cy="327.8" r="0.95"/>
<circle cx="331.2" cy="328.8" r="0.95"/>
<circle cx="344.8" cy="328.5" r="0.95"/>
<circle cx="292.0" cy="330.0" r="0.95"/>
<circle cx="314.0" cy="330.6" r="0.95"/>
<circle cx="317.0" cy="329.4" r="0.95"/>
<circle cx="326.0" cy="331.4" r="0.95"/>
<circle cx="328.0" cy="331.4" r="0.95"/>
<circle cx="338.0" cy="332.0" r="0.95"/>
<circle cx="345.0" cy="330.6" r="0.95"/>
<circle cx="350.0" cy="331.0" r="0.95"/>
<circle cx="357.0" cy="331.0" r="0.95"/>
<circle cx="301.0" cy="334.0" r="0.95"/>
<circle cx="312.0" cy="334.0" r="0.95"/>
<circle cx="313.0" cy="336.0" r="0.95"/>
<circle cx="323.0" cy="335.0" r="0.95"/>
<circle cx="322.4" cy="336.6" r="0.95"/>
<circle cx="334.0" cy="336.4" r="0.95"/>
<circle cx="339.0" cy="336.0" r="0.95"/>
<circle cx="345.0" cy="337.4" r="0.95"/>
<circle cx="350.4" cy="338.0" r="0.95"/>
<circle cx="320.0" cy="342.6" r="0.95"/>
<circle cx="353.0" cy="344.6" r="0.95"/>
<circle cx="105.8" cy="425.2" r="0.95"/>
<circle cx="129.2" cy="433.4" r="0.95"/>
<circle cx="126.8" cy="452.5" r="0.95"/>
<circle cx="139.6" cy="451.0" r="0.95"/>
<circle cx="160.6" cy="438.2" r="0.95"/>
<circle cx="153.1" cy="440.9" r="0.95"/>
<circle cx="140.3" cy="451.0" r="0.95"/>
<circle cx="144.8" cy="452.8" r="0.95"/>
<circle cx="152.0" cy="453.6" r="0.95"/>
<circle cx="163.2" cy="455.9" r="0.95"/>
<circle cx="176.4" cy="455.9" r="0.95"/>
<circle cx="182.8" cy="459.6" r="0.95"/>
<circle cx="139.2" cy="463.8" r="0.95"/>
<circle cx="104.8" cy="467.8" r="0.95"/>
<circle cx="134.0" cy="467.8" r="0.95"/>
<circle cx="136.7" cy="469.0" r="0.95"/>
<circle cx="107.8" cy="470.8" r="0.95"/>
<circle cx="117.5" cy="470.8" r="0.95"/>
<circle cx="105.2" cy="472.8" r="0.95"/>
<circle cx="117.2" cy="473.2" r="0.95"/>
<circle cx="122.8" cy="472.8" r="0.95"/>
<circle cx="125.0" cy="474.2" r="0.95"/>
<circle cx="132.2" cy="472.8" r="0.95"/>
<circle cx="139.2" cy="474.2" r="0.95"/>
<circle cx="131.0" cy="475.8" r="0.95"/>
<circle cx="106.7" cy="478.3" r="0.95"/>
<circle cx="118.7" cy="479.5" r="0.95"/>
<circle cx="117.2" cy="481.0" r="0.95"/>
<circle cx="131.0" cy="481.0" r="0.95"/>
<circle cx="126.8" cy="482.2" r="0.95"/>
<circle cx="120.2" cy="482.8" r="0.95"/>
<circle cx="138.2" cy="481.8" r="0.95"/>
<circle cx="94.7" cy="485.2" r="0.95"/>
<circle cx="114.8" cy="484.8" r="0.95"/>
<circle cx="128.3" cy="484.0" r="0.95"/>
<circle cx="134.8" cy="484.8" r="0.95"/>
<circle cx="122.0" cy="490.8" r="0.95"/>
<circle cx="113.3" cy="492.7" r="0.95"/>
<circle cx="137.8" cy="492.2" r="0.95"/>
<circle cx="123.8" cy="496.0" r="0.95"/>
<circle cx="110.8" cy="502.0" r="0.95"/>
<circle cx="102.5" cy="503.5" r="0.95"/>
<circle cx="111.2" cy="503.5" r="0.95"/>
<circle cx="129.5" cy="504.2" r="0.95"/>
<circle cx="136.2" cy="504.7" r="0.95"/>
<circle cx="139.2" cy="505.0" r="0.95"/>
<circle cx="83.8" cy="505.3" r="0.95"/>
<circle cx="114.8" cy="505.8" r="0.95"/>
<circle cx="132.2" cy="508.8" r="0.95"/>
<circle cx="130.2" cy="510.2" r="0.95"/>
<circle cx="134.3" cy="509.8" r="0.95"/>
<circle cx="127.7" cy="511.3" r="0.95"/>
<circle cx="137.0" cy="511.3" r="0.95"/>
<circle cx="95.8" cy="511.3" r="0.95"/>
<circle cx="131.0" cy="514.8" r="0.95"/>
<circle cx="122.0" cy="514.8" r="0.95"/>
<circle cx="136.2" cy="517.8" r="0.95"/>
<circle cx="122.0" cy="518.8" r="0.95"/>
<circle cx="183.2" cy="460.4" r="0.95"/>
<circle cx="148.7" cy="462.7" r="0.95"/>
<circle cx="140.3" cy="464.2" r="0.95"/>
<circle cx="156.5" cy="467.2" r="0.95"/>
<circle cx="164.3" cy="466.0" r="0.95"/>
<circle cx="166.2" cy="467.2" r="0.95"/>
<circle cx="167.8" cy="470.2" r="0.95"/>
<circle cx="160.2" cy="472.0" r="0.95"/>
<circle cx="164.0" cy="476.2" r="0.95"/>
<circle cx="158.8" cy="477.7" r="0.95"/>
<circle cx="142.7" cy="479.2" r="0.95"/>
<circle cx="161.0" cy="480.2" r="0.95"/>
<circle cx="143.8" cy="483.7" r="0.95"/>
<circle cx="144.5" cy="485.8" r="0.95"/>
<circle cx="149.0" cy="485.5" r="0.95"/>
<circle cx="155.0" cy="484.8" r="0.95"/>
<circle cx="176.0" cy="485.2" r="0.95"/>
<circle cx="188.8" cy="487.8" r="0.95"/>
<circle cx="171.5" cy="489.2" r="0.95"/>
<circle cx="142.2" cy="491.5" r="0.95"/>
<circle cx="149.0" cy="491.2" r="0.95"/>
<circle cx="150.8" cy="492.2" r="0.95"/>
<circle cx="160.2" cy="490.8" r="0.95"/>
<circle cx="162.5" cy="492.2" r="0.95"/>
<circle cx="146.0" cy="494.2" r="0.95"/>
<circle cx="159.2" cy="495.2" r="0.95"/>
<circle cx="167.8" cy="496.0" r="0.95"/>
<circle cx="143.8" cy="497.2" r="0.95"/>
<circle cx="149.3" cy="496.8" r="0.95"/>
<circle cx="156.5" cy="497.2" r="0.95"/>
<circle cx="150.2" cy="499.3" r="0.95"/>
<circle cx="168.5" cy="499.8" r="0.95"/>
<circle cx="171.5" cy="499.8" r="0.95"/>
<circle cx="141.2" cy="500.8" r="0.95"/>
<circle cx="155.0" cy="501.2" r="0.95"/>
<circle cx="168.2" cy="502.8" r="0.95"/>
<circle cx="145.2" cy="502.3" r="0.95"/>
<circle cx="146.3" cy="503.8" r="0.95"/>
<circle cx="161.0" cy="504.7" r="0.95"/>
<circle cx="140.3" cy="505.0" r="0.95"/>
<circle cx="149.0" cy="515.2" r="0.95"/>
<circle cx="150.8" cy="515.2" r="0.95"/>
<circle cx="159.2" cy="515.2" r="0.95"/>
<circle cx="164.8" cy="514.8" r="0.95"/>
<circle cx="167.3" cy="516.7" r="0.95"/>
<circle cx="121.0" cy="519.4" r="0.95"/>
<circle cx="119.0" cy="520.6" r="0.95"/>
<circle cx="133.0" cy="527.0" r="0.95"/>
<circle cx="148.0" cy="524.6" r="0.95"/>
<circle cx="113.6" cy="530.6" r="0.95"/>
<circle cx="119.6" cy="533.0" r="0.95"/>
<circle cx="313.6" cy="431.2" r="0.95"/>
<circle cx="306.1" cy="445.8" r="0.95"/>
<circle cx="303.8" cy="451.8" r="0.95"/>
<circle cx="299.8" cy="459.2" r="0.95"/>
<circle cx="333.8" cy="404.2" r="0.95"/>
<circle cx="363.8" cy="427.0" r="0.95"/>
<circle cx="332.8" cy="437.5" r="0.95"/>
<circle cx="330.2" cy="440.2" r="0.95"/>
<circle cx="356.4" cy="437.5" r="0.95"/>
<circle cx="359.0" cy="437.9" r="0.95"/>
<circle cx="351.5" cy="439.8" r="0.95"/>
<circle cx="371.0" cy="440.1" r="0.95"/>
<circle cx="336.1" cy="446.9" r="0.95"/>
<circle cx="359.8" cy="446.5" r="0.95"/>
<circle cx="365.0" cy="447.2" r="0.95"/>
<circle cx="330.5" cy="450.6" r="0.95"/>
<circle cx="358.7" cy="450.2" r="0.95"/>
<circle cx="346.7" cy="451.8" r="0.95"/>
<circle cx="344.3" cy="452.9" r="0.95"/>
<circle cx="352.7" cy="454.8" r="0.95"/>
<circle cx="357.2" cy="455.2" r="0.95"/>
<circle cx="324.8" cy="455.8" r="0.95"/>
<circle cx="333.2" cy="455.8" r="0.95"/>
<circle cx="368.0" cy="455.8" r="0.95"/>
<circle cx="349.2" cy="457.0" r="0.95"/>
<circle cx="356.8" cy="456.7" r="0.95"/>
<circle cx="365.8" cy="457.0" r="0.95"/>
<circle cx="328.7" cy="459.2" r="0.95"/>
<circle cx="335.0" cy="458.8" r="0.95"/>
<circle cx="341.8" cy="459.6" r="0.95"/>
<circle cx="352.2" cy="458.8" r="0.95"/>
<circle cx="353.8" cy="458.8" r="0.95"/>
<circle cx="312.8" cy="467.2" r="0.95"/>
<circle cx="305.0" cy="468.7" r="0.95"/>
<circle cx="319.2" cy="468.7" r="0.95"/>
<circle cx="306.8" cy="471.2" r="0.95"/>
<circle cx="311.8" cy="470.8" r="0.95"/>
<circle cx="315.2" cy="470.8" r="0.95"/>
<circle cx="312.8" cy="472.8" r="0.95"/>
<circle cx="308.3" cy="477.2" r="0.95"/>
<circle cx="311.8" cy="477.2" r="0.95"/>
<circle cx="319.2" cy="478.0" r="0.95"/>
<circle cx="302.8" cy="481.0" r="0.95"/>
<circle cx="314.8" cy="480.7" r="0.95"/>
<circle cx="312.5" cy="486.7" r="0.95"/>
<circle cx="278.3" cy="490.0" r="0.95"/>
<circle cx="302.0" cy="491.2" r="0.95"/>
<circle cx="305.8" cy="490.0" r="0.95"/>
<circle cx="304.2" cy="494.2" r="0.95"/>
<circle cx="282.2" cy="495.7" r="0.95"/>
<circle cx="312.5" cy="496.8" r="0.95"/>
<circle cx="300.5" cy="498.7" r="0.95"/>
<circle cx="293.8" cy="500.8" r="0.95"/>
<circle cx="303.5" cy="500.2" r="0.95"/>
<circle cx="314.8" cy="498.2" r="0.95"/>
<circle cx="319.2" cy="496.0" r="0.95"/>
<circle cx="306.8" cy="503.5" r="0.95"/>
<circle cx="313.7" cy="503.5" r="0.95"/>
<circle cx="319.2" cy="503.5" r="0.95"/>
<circle cx="310.7" cy="505.8" r="0.95"/>
<circle cx="314.8" cy="506.5" r="0.95"/>
<circle cx="305.0" cy="508.3" r="0.95"/>
<circle cx="311.8" cy="508.3" r="0.95"/>
<circle cx="317.8" cy="508.8" r="0.95"/>
<circle cx="302.8" cy="510.2" r="0.95"/>
<circle cx="308.8" cy="511.8" r="0.95"/>
<circle cx="311.0" cy="512.2" r="0.95"/>
<circle cx="314.8" cy="512.2" r="0.95"/>
<circle cx="318.5" cy="511.0" r="0.95"/>
<circle cx="290.0" cy="512.2" r="0.95"/>
<circle cx="302.0" cy="512.8" r="0.95"/>
<circle cx="314.0" cy="514.8" r="0.95"/>
<circle cx="308.8" cy="514.0" r="0.95"/>
<circle cx="317.8" cy="515.5" r="0.95"/>
<circle cx="296.8" cy="518.2" r="0.95"/>
<circle cx="306.5" cy="517.0" r="0.95"/>
<circle cx="312.5" cy="517.8" r="0.95"/>
<circle cx="319.2" cy="518.5" r="0.95"/>
<circle cx="323.0" cy="461.5" r="0.95"/>
<circle cx="327.5" cy="461.2" r="0.95"/>
<circle cx="330.5" cy="460.8" r="0.95"/>
<circle cx="340.2" cy="462.2" r="0.95"/>
<circle cx="342.5" cy="461.5" r="0.95"/>
<circle cx="349.2" cy="463.0" r="0.95"/>
<circle cx="358.2" cy="461.2" r="0.95"/>
<circle cx="359.8" cy="463.0" r="0.95"/>
<circle cx="364.2" cy="462.2" r="0.95"/>
<circle cx="355.2" cy="464.2" r="0.95"/>
<circle cx="329.8" cy="464.8" r="0.95"/>
<circle cx="344.0" cy="466.3" r="0.95"/>
<circle cx="351.5" cy="465.2" r="0.95"/>
<circle cx="359.0" cy="465.7" r="0.95"/>
<circle cx="364.2" cy="466.8" r="0.95"/>
<circle cx="368.0" cy="466.8" r="0.95"/>
<circle cx="330.5" cy="468.7" r="0.95"/>
<circle cx="339.5" cy="469.8" r="0.95"/>
<circle cx="350.8" cy="468.2" r="0.95"/>
<circle cx="353.8" cy="469.0" r="0.95"/>
<circle cx="323.8" cy="470.8" r="0.95"/>
<circle cx="334.2" cy="472.0" r="0.95"/>
<circle cx="327.5" cy="473.2" r="0.95"/>
<circle cx="338.8" cy="473.5" r="0.95"/>
<circle cx="338.0" cy="475.0" r="0.95"/>
<circle cx="346.2" cy="471.7" r="0.95"/>
<circle cx="350.0" cy="471.2" r="0.95"/>
<circle cx="347.8" cy="473.8" r="0.95"/>
<circle cx="352.2" cy="472.8" r="0.95"/>
<circle cx="355.2" cy="473.5" r="0.95"/>
<circle cx="362.0" cy="470.5" r="0.95"/>
<circle cx="363.5" cy="469.8" r="0.95"/>
<circle cx="326.8" cy="475.8" r="0.95"/>
<circle cx="331.2" cy="476.5" r="0.95"/>
<circle cx="335.0" cy="475.8" r="0.95"/>
<circle cx="343.2" cy="475.8" r="0.95"/>
<circle cx="346.2" cy="476.5" r="0.95"/>
<circle cx="350.8" cy="475.8" r="0.95"/>
<circle cx="324.5" cy="478.0" r="0.95"/>
<circle cx="333.5" cy="479.2" r="0.95"/>
<circle cx="330.5" cy="480.2" r="0.95"/>
<circle cx="343.2" cy="478.8" r="0.95"/>
<circle cx="356.8" cy="477.2" r="0.95"/>
<circle cx="368.0" cy="476.2" r="0.95"/>
<circle cx="369.5" cy="478.8" r="0.95"/>
<circle cx="325.2" cy="481.0" r="0.95"/>
<circle cx="335.0" cy="482.5" r="0.95"/>
<circle cx="345.5" cy="482.5" r="0.95"/>
<circle cx="352.2" cy="482.5" r="0.95"/>
<circle cx="359.8" cy="481.8" r="0.95"/>
<circle cx="362.0" cy="482.5" r="0.95"/>
<circle cx="365.8" cy="481.3" r="0.95"/>
<circle cx="323.0" cy="486.7" r="0.95"/>
<circle cx="328.2" cy="485.5" r="0.95"/>
<circle cx="338.8" cy="484.0" r="0.95"/>
<circle cx="344.0" cy="486.2" r="0.95"/>
<circle cx="349.2" cy="484.8" r="0.95"/>
<circle cx="355.2" cy="485.5" r="0.95"/>
<circle cx="359.0" cy="485.8" r="0.95"/>
<circle cx="365.0" cy="484.8" r="0.95"/>
<circle cx="370.2" cy="486.2" r="0.95"/>
<circle cx="326.8" cy="487.8" r="0.95"/>
<circle cx="336.5" cy="487.0" r="0.95"/>
<circle cx="338.8" cy="487.8" r="0.95"/>
<circle cx="348.5" cy="487.8" r="0.95"/>
<circle cx="353.8" cy="487.3" r="0.95"/>
<circle cx="356.8" cy="488.5" r="0.95"/>
<circle cx="361.2" cy="488.5" r="0.95"/>
<circle cx="365.0" cy="487.8" r="0.95"/>
<circle cx="351.5" cy="490.0" r="0.95"/>
<circle cx="360.5" cy="490.8" r="0.95"/>
<circle cx="365.0" cy="491.5" r="0.95"/>
<circle cx="323.0" cy="492.2" r="0.95"/>
<circle cx="334.2" cy="492.2" r="0.95"/>
<circle cx="336.5" cy="491.8" r="0.95"/>
<circle cx="350.8" cy="492.7" r="0.95"/>
<circle cx="321.5" cy="495.2" r="0.95"/>
<circle cx="327.5" cy="496.0" r="0.95"/>
<circle cx="329.0" cy="494.8" r="0.95"/>
<circle cx="331.2" cy="494.2" r="0.95"/>
<circle cx="335.8" cy="496.0" r="0.95"/>
<circle cx="348.5" cy="496.8" r="0.95"/>
<circle cx="353.8" cy="494.5" r="0.95"/>
<circle cx="356.0" cy="494.2" r="0.95"/>
<circle cx="359.8" cy="496.0" r="0.95"/>
<circle cx="368.0" cy="495.7" r="0.95"/>
<circle cx="350.8" cy="499.3" r="0.95"/>
<circle cx="355.2" cy="498.2" r="0.95"/>
<circle cx="323.0" cy="499.8" r="0.95"/>
<circle cx="326.8" cy="500.2" r="0.95"/>
<circle cx="329.8" cy="499.8" r="0.95"/>
<circle cx="342.5" cy="500.5" r="0.95"/>
<circle cx="344.0" cy="501.2" r="0.95"/>
<circle cx="349.2" cy="502.0" r="0.95"/>
<circle cx="358.2" cy="500.8" r="0.95"/>
<circle cx="366.5" cy="499.0" r="0.95"/>
<circle cx="331.2" cy="502.8" r="0.95"/>
<circle cx="341.0" cy="503.8" r="0.95"/>
<circle cx="348.5" cy="504.2" r="0.95"/>
<circle cx="329.0" cy="505.0" r="0.95"/>
<circle cx="330.5" cy="505.8" r="0.95"/>
<circle cx="321.2" cy="506.5" r="0.95"/>
<circle cx="337.2" cy="507.2" r="0.95"/>
<circle cx="330.5" cy="510.2" r="0.95"/>
<circle cx="343.2" cy="509.5" r="0.95"/>
<circle cx="352.2" cy="511.8" r="0.95"/>
<circle cx="356.0" cy="512.5" r="0.95"/>
<circle cx="339.5" cy="512.5" r="0.95"/>
<circle cx="332.8" cy="514.0" r="0.95"/>
<circle cx="321.5" cy="515.2" r="0.95"/>
<circle cx="323.0" cy="518.5" r="0.95"/>
<circle cx="327.5" cy="516.7" r="0.95"/>
<circle cx="337.2" cy="518.2" r="0.95"/>
<circle cx="297.6" cy="518.6" r="0.95"/>
<circle cx="304.0" cy="519.0" r="0.95"/>
<circle cx="307.6" cy="517.4" r="0.95"/>
<circle cx="310.0" cy="519.4" r="0.95"/>
<circle cx="313.6" cy="518.0" r="0.95"/>
<circle cx="316.0" cy="518.6" r="0.95"/>
<circle cx="328.0" cy="517.4" r="0.95"/>
<circle cx="337.0" cy="518.0" r="0.95"/>
<circle cx="320.0" cy="520.6" r="0.95"/>
<circle cx="321.6" cy="521.4" r="0.95"/>
<circle cx="326.0" cy="521.4" r="0.95"/>
<circle cx="349.0" cy="521.4" r="0.95"/>
<circle cx="347.6" cy="522.6" r="0.95"/>
<circle cx="320.0" cy="524.0" r="0.95"/>
<circle cx="315.0" cy="525.4" r="0.95"/>
<circle cx="339.6" cy="526.6" r="0.95"/>
<circle cx="331.0" cy="529.0" r="0.95"/>
<circle cx="357.0" cy="530.6" r="0.95"/>
<circle cx="313.6" cy="533.4" r="0.95"/>
<circle cx="78.8" cy="450.0" r="0.95"/>
<circle cx="324.3" cy="86.5" r="0.95"/>
<circle cx="363.8" cy="88.2" r="0.95"/>
<circle cx="336.2" cy="91.3" r="0.95"/>
<circle cx="364.3" cy="90.1" r="0.95"/>
<circle cx="357.9" cy="92.9" r="0.95"/>
<circle cx="325.6" cy="95.6" r="0.95"/>
<circle cx="357.1" cy="100.0" r="0.95"/>
<circle cx="349.9" cy="119.1" r="0.95"/>
<circle cx="353.8" cy="112.8" r="0.95"/>
<circle cx="340.0" cy="124.6" r="0.95"/>
<circle cx="349.2" cy="122.4" r="0.95"/>
<circle cx="356.5" cy="117.8" r="0.95"/>
<circle cx="322.0" cy="122.2" r="0.95"/>
<circle cx="336.5" cy="125.8" r="0.95"/>
<circle cx="336.3" cy="130.2" r="0.95"/>
<circle cx="351.7" cy="126.4" r="0.95"/>
<circle cx="342.3" cy="131.3" r="0.95"/>
<circle cx="353.9" cy="137.7" r="0.95"/>
<circle cx="327.8" cy="131.1" r="0.95"/>
<circle cx="339.1" cy="134.6" r="0.95"/>
<circle cx="358.4" cy="137.7" r="0.95"/>
<circle cx="361.0" cy="136.9" r="0.95"/>
<circle cx="349.8" cy="141.7" r="0.95"/>
<circle cx="357.1" cy="144.3" r="0.95"/>
<circle cx="334.3" cy="147.8" r="0.95"/>
<circle cx="329.5" cy="147.6" r="0.95"/>
<circle cx="359.8" cy="270.5" r="0.95"/>
<circle cx="348.3" cy="274.5" r="0.95"/>
<circle cx="342.7" cy="286.4" r="0.95"/>
<circle cx="344.8" cy="294.9" r="0.95"/>
<circle cx="355.6" cy="303.6" r="0.95"/>
<circle cx="363.1" cy="304.0" r="0.95"/>
<circle cx="331.7" cy="306.7" r="0.95"/>
<circle cx="338.4" cy="307.6" r="0.95"/>
<circle cx="323.3" cy="314.1" r="0.95"/>
<circle cx="328.2" cy="313.5" r="0.95"/>
<circle cx="345.2" cy="314.8" r="0.95"/>
<circle cx="342.4" cy="311.6" r="0.95"/>
<circle cx="358.6" cy="316.8" r="0.95"/>
<circle cx="326.1" cy="315.6" r="0.95"/>
<circle cx="331.6" cy="317.5" r="0.95"/>
<circle cx="323.0" cy="319.7" r="0.95"/>
<circle cx="325.1" cy="320.9" r="0.95"/>
<circle cx="334.7" cy="321.5" r="0.95"/>
<circle cx="326.6" cy="324.2" r="0.95"/>
<circle cx="325.6" cy="326.8" r="0.95"/>
<circle cx="327.2" cy="326.9" r="0.95"/>
<circle cx="358.4" cy="450.7" r="0.95"/>
<circle cx="350.9" cy="459.9" r="0.95"/>
<circle cx="318.8" cy="510.2" r="0.95"/>
<circle cx="325.3" cy="465.0" r="0.95"/>
<circle cx="332.3" cy="463.2" r="0.95"/>
<circle cx="330.3" cy="467.8" r="0.95"/>
<circle cx="341.9" cy="469.7" r="0.95"/>
<circle cx="344.9" cy="473.1" r="0.95"/>
<circle cx="358.2" cy="472.9" r="0.95"/>
<circle cx="343.7" cy="475.9" r="0.95"/>
<circle cx="339.0" cy="480.7" r="0.95"/>
<circle cx="341.3" cy="478.7" r="0.95"/>
<circle cx="352.3" cy="482.0" r="0.95"/>
<circle cx="360.3" cy="485.6" r="0.95"/>
<circle cx="328.0" cy="484.2" r="0.95"/>
<circle cx="346.6" cy="484.3" r="0.95"/>
<circle cx="371.2" cy="489.6" r="0.95"/>
<circle cx="341.7" cy="491.7" r="0.95"/>
<circle cx="351.1" cy="496.7" r="0.95"/>
<circle cx="328.8" cy="493.7" r="0.95"/>
<circle cx="328.1" cy="496.4" r="0.95"/>
<circle cx="349.6" cy="500.4" r="0.95"/>
<circle cx="355.6" cy="495.8" r="0.95"/>
<circle cx="324.1" cy="500.3" r="0.95"/>
<circle cx="324.0" cy="499.2" r="0.95"/>
<circle cx="344.7" cy="502.7" r="0.95"/>
<circle cx="354.2" cy="506.5" r="0.95"/>
<circle cx="326.5" cy="512.8" r="0.95"/>
<circle cx="316.1" cy="521.8" r="0.95"/>
<circle cx="327.5" cy="524.0" r="0.95"/>
<circle cx="323.5" cy="521.2" r="0.95"/>
</g>
</svg></body></html>
